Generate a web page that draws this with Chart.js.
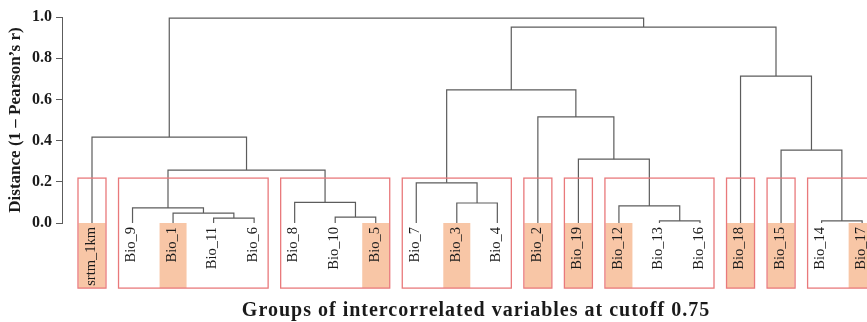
<!DOCTYPE html>
<html>
<head>
<meta charset="utf-8">
<script src="https://cdn.jsdelivr.net/npm/chart.js@4"></script>
<style>
  html, body { margin: 0; padding: 0; background: #fff; }
  #wrap { width: 867px; height: 322px; }
</style>
</head>
<body>
<div id="wrap"><canvas id="dendro"></canvas></div>
<script>
// leaf order along the x axis
const leaves = ['srtm_1km', 'Bio_9', 'Bio_1', 'Bio_11', 'Bio_6', 'Bio_8', 'Bio_10', 'Bio_5',
  'Bio_7', 'Bio_3', 'Bio_4', 'Bio_2', 'Bio_19', 'Bio_12', 'Bio_13', 'Bio_16',
  'Bio_18', 'Bio_15', 'Bio_14', 'Bio_17'];

// merge steps: a name is a leaf, a number is an earlier merge (1-based)
const mergeA = ['Bio_11', 'Bio_1', 'Bio_9', 'Bio_10', 'Bio_8', 3, 'srtm_1km', 'Bio_3', 'Bio_7',
  'Bio_13', 'Bio_12', 'Bio_19', 'Bio_2', 9, 'Bio_14', 'Bio_15', 'Bio_18', 14, 7];
const mergeB = ['Bio_6', 1, 2, 'Bio_5', 4, 5, 6, 'Bio_4', 8,
  'Bio_16', 10, 11, 12, 13, 'Bio_17', 15, 16, 17, 18];
const mergeHeight = [0.024, 0.048, 0.073, 0.029, 0.10, 0.257, 0.417, 0.097, 0.195,
  0.01, 0.083, 0.31, 0.515, 0.646, 0.01, 0.354, 0.713, 0.951, 0.995];

// groups at cutoff 0.75 (first and last leaf of each box)
const groupFirst = ['srtm_1km', 'Bio_9', 'Bio_8', 'Bio_7', 'Bio_2', 'Bio_19', 'Bio_12', 'Bio_18', 'Bio_15', 'Bio_14'];
const groupLast  = ['srtm_1km', 'Bio_6', 'Bio_5', 'Bio_4', 'Bio_2', 'Bio_19', 'Bio_16', 'Bio_18', 'Bio_15', 'Bio_17'];

// retained variable of each group
const highlighted = ['srtm_1km', 'Bio_1', 'Bio_5', 'Bio_3', 'Bio_2', 'Bio_19', 'Bio_12', 'Bio_18', 'Bio_15', 'Bio_17'];

const yTicks = [0, 0.2, 0.4, 0.6, 0.8, 1.0];

const serif = "'Liberation Serif', 'Times New Roman', serif";
const lineColor = '#5c5c5c';
const boxColor = '#e9797b';
const fillColor = '#f8c6a6';

// build the U-shaped links
const nodes = [];
function nodeOf(ref) {
  if (typeof ref === 'number') return nodes[ref - 1];
  return { x: leaves.indexOf(ref), y: 0 };
}
const datasets = mergeHeight.map((h, i) => {
  const a = nodeOf(mergeA[i]);
  const b = nodeOf(mergeB[i]);
  nodes.push({ x: (a.x + b.x) / 2, y: h });
  return {
    data: [{ x: a.x, y: a.y }, { x: a.x, y: h }, { x: b.x, y: h }, { x: b.x, y: b.y }],
    borderColor: lineColor,
    borderWidth: 1.2,
    pointRadius: 0,
    tension: 0,
    fill: false
  };
});

const groupBoxes = {
  id: 'groupBoxes',
  beforeDatasetsDraw(chart) {
    const { ctx, scales: { x, y } } = chart;
    ctx.save();
    ctx.fillStyle = fillColor;
    highlighted.forEach(name => {
      const px = x.getPixelForValue(leaves.indexOf(name));
      const top = y.getPixelForValue(0);
      const bottom = y.getPixelForValue(-0.316);
      ctx.fillRect(px - 13.5, top, 27, bottom - top);
    });
    ctx.restore();
  },
  afterDatasetsDraw(chart) {
    const { ctx, scales: { x, y } } = chart;
    ctx.save();
    // boxes
    ctx.strokeStyle = boxColor;
    ctx.lineWidth = 1.3;
    groupFirst.forEach((f, i) => {
      const x0 = x.getPixelForValue(leaves.indexOf(f)) - 14;
      const x1 = x.getPixelForValue(leaves.indexOf(groupLast[i])) + 14;
      const y0 = y.getPixelForValue(0.218);
      const y1 = y.getPixelForValue(-0.316);
      ctx.strokeRect(x0, y0, x1 - x0, y1 - y0);
    });
    // leaf labels
    ctx.fillStyle = '#1a1a1a';
    ctx.font = '14.5px ' + serif;
    ctx.textAlign = 'right';
    ctx.textBaseline = 'middle';
    leaves.forEach((name, i) => {
      ctx.save();
      ctx.translate(x.getPixelForValue(i) - 1, y.getPixelForValue(0) + 4);
      ctx.rotate(-Math.PI / 2);
      ctx.fillText(name, 0, 0);
      ctx.restore();
    });
    // bottom caption
    ctx.font = 'bold 20px ' + serif;
    ctx.letterSpacing = '1px';
    ctx.textAlign = 'center';
    ctx.fillText('Groups of intercorrelated variables at cutoff 0.75', 476, 311);
    ctx.restore();
  }
};

new Chart(document.getElementById('dendro'), {
  type: 'line',
  data: { datasets: datasets },
  options: {
    responsive: true,
    maintainAspectRatio: false,
    animation: false,
    parsing: false,
    layout: { padding: { top: 17, bottom: 99, left: 0, right: 0 } },
    plugins: { legend: { display: false }, tooltip: { enabled: false } },
    scales: {
      x: { type: 'linear', display: false, min: -0.74, max: 19.12 },
      y: {
        type: 'linear',
        min: 0,
        max: 1,
        afterBuildTicks: s => { s.ticks = yTicks.map(v => ({ value: v })); },
        afterFit: s => { s.width = 62; },
        ticks: {
          color: '#1a1a1a',
          padding: 4,
          font: { family: serif, size: 16, weight: 'bold' },
          callback: v => v.toFixed(1)
        },
        grid: { display: true, drawOnChartArea: false, drawTicks: true, tickLength: 6, color: lineColor },
        border: { display: true, color: lineColor, width: 1 },
        title: {
          display: true,
          text: 'Distance (1 – Pearson’s r)',
          color: '#1a1a1a',
          font: { family: serif, size: 17, weight: 'bold' },
          padding: { top: 5, bottom: 0 }
        }
      }
    }
  },
  plugins: [groupBoxes]
});
</script>
</body>
</html>
